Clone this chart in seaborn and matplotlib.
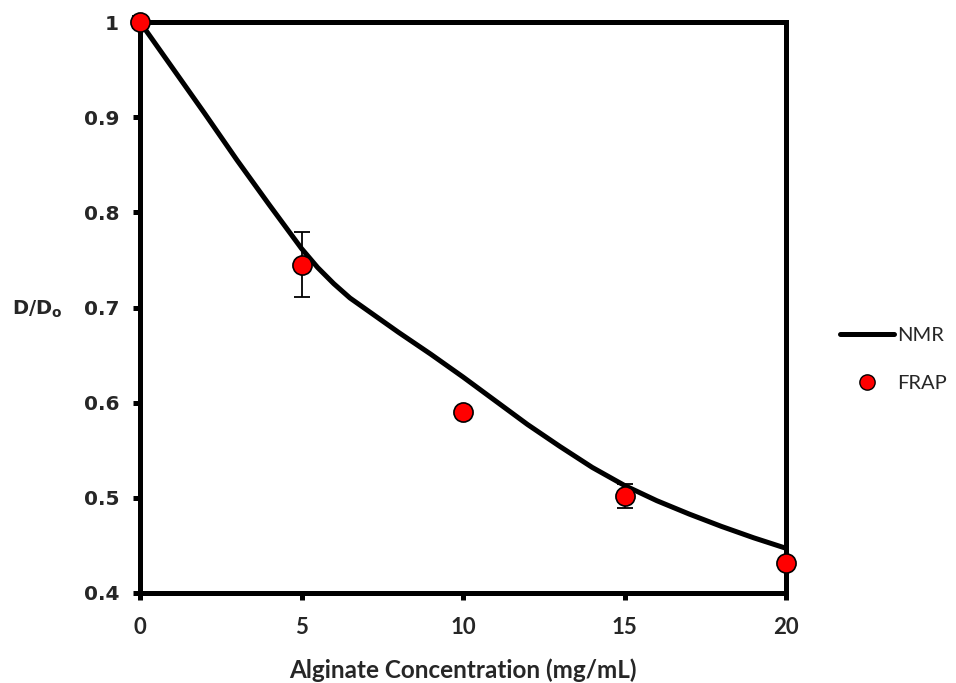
import matplotlib
matplotlib.use("Agg")
import matplotlib.pyplot as plt
import seaborn as sns
import pandas as pd
from matplotlib.lines import Line2D

# NMR curve
nmr_x = [0, 1, 2, 3, 4, 4.5, 5, 5.5, 6, 6.5, 7, 8, 9, 10, 11, 12, 13, 14, 15, 16, 17, 18, 19, 20]
nmr_y = [1.000, 0.952, 0.904, 0.855, 0.808, 0.785, 0.762, 0.742, 0.725, 0.710, 0.698,
         0.674, 0.651, 0.627, 0.602, 0.577, 0.554, 0.532, 0.513, 0.497, 0.483, 0.470,
         0.458, 0.447]

# FRAP points
frap_x = [0, 5, 10, 15, 20]
frap_y = [1.0, 0.745, 0.590, 0.502, 0.432]
frap_err = [0.006, 0.034, 0.0, 0.013, 0.004]

x_ticks = [0, 5, 10, 15, 20]
y_ticks = [0.4, 0.5, 0.6, 0.7, 0.8, 0.9, 1.0]
y_tick_labels = ["0.4", "0.5", "0.6", "0.7", "0.8", "0.9", "1"]

sns.set_style("white")
plt.rcParams['font.family'] = ['DejaVu Sans']

fig = plt.figure(figsize=(9.56, 6.83), dpi=100)
ax = fig.add_axes([140/956, 1-593/683, (786-140)/956, (593-22)/683])

nmr_df = pd.DataFrame({"x": nmr_x, "y": nmr_y})
frap_df = pd.DataFrame({"x": frap_x, "y": frap_y})

sns.lineplot(data=nmr_df, x="x", y="y", ax=ax, color="black", linewidth=3.6,
             zorder=3, legend=False, solid_joinstyle="round", solid_capstyle="round")
ax.errorbar(frap_x, frap_y, yerr=frap_err, fmt="none", ecolor="black",
            elinewidth=1.3, capsize=5.5, capthick=1.3, zorder=2, clip_on=False)
sns.scatterplot(data=frap_df, x="x", y="y", ax=ax, color="#ff0000",
                edgecolor="black", linewidth=1.2, s=190, zorder=5,
                clip_on=False, legend=False)

ax.set_xlim(0, 20)
ax.set_ylim(0.4, 1.0)
ax.set_xticks(x_ticks)
ax.set_yticks(y_ticks)
ax.set_yticklabels(y_tick_labels)
for lab in ax.get_yticklabels():
    lab.set_fontweight("bold")
    lab.set_fontsize(14.5)
for lab in ax.get_xticklabels():
    lab.set_fontweight("bold")
    lab.set_fontsize(16)
    lab.set_family("Lato")

for sp in ax.spines.values():
    sp.set_linewidth(3.6)
    sp.set_color("black")
    sp.set_visible(True)
ax.tick_params(axis="both", direction="out", length=5, width=3.6, color="black",
               left=True, bottom=True)
ax.tick_params(axis="y", pad=10)
ax.tick_params(axis="x", pad=12)

ax.set_xlabel("Alginate Concentration (mg/mL)", fontsize=17.5, fontweight="bold",
              family="Lato", labelpad=15)
ax.set_ylabel("")
fig.text(12/956, 1-309/683, r"$\mathbf{D/D_o}$", fontsize=14, ha="left", va="center")

handles = [Line2D([0], [0], color="black", linewidth=3.6),
           Line2D([0], [0], marker="o", linestyle="none", markerfacecolor="#ff0000",
                  markeredgecolor="black", markersize=11)]
leg = ax.legend(handles, ["NMR", "FRAP"], loc="center left",
                bbox_to_anchor=(1.0836, 0.409), frameon=False, borderaxespad=0,
                borderpad=0, prop={"family": "Lato", "size": 14.5}, handlelength=2.7,
                handletextpad=0.15, labelspacing=1.5)

fig.savefig("out.png", dpi=100, facecolor="white")
